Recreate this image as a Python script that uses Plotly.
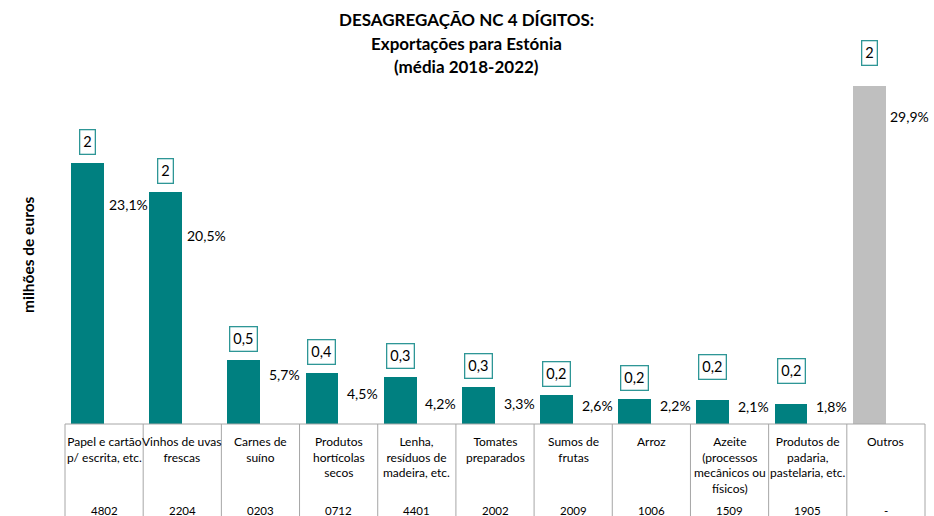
import plotly.graph_objects as go

# ---- data ----
categories = [
    "Papel e cartão<br>p/ escrita, etc.",
    "Vinhos de uvas<br>frescas",
    "Carnes de<br>suíno",
    "Produtos<br>hortícolas<br>secos",
    "Lenha,<br>resíduos de<br>madeira, etc.",
    "Tomates<br>preparados",
    "Sumos de<br>frutas",
    "Arroz",
    "Azeite<br>(processos<br>mecânicos ou<br>físicos)",
    "Produtos de<br>padaria,<br>pastelaria, etc.",
    "Outros",
]
codes = ["4802", "2204", "0203", "0712", "4401", "2002", "2009", "1006", "1509", "1905", "-"]
share_pct = [23.1, 20.5, 5.7, 4.5, 4.2, 3.3, 2.6, 2.2, 2.1, 1.8, 29.9]
value_labels = ["2", "2", "0,5", "0,4", "0,3", "0,3", "0,2", "0,2", "0,2", "0,2", "2"]
pct_labels = ["23,1%", "20,5%", "5,7%", "4,5%", "4,2%", "3,3%", "2,6%", "2,2%", "2,1%", "1,8%", "29,9%"]

# ---- styling / layout ----
W, H = 934, 516
L, R, T, B = 65, 9, 80, 92
PLOT_H = H - T - B
PLOT_W = W - L - R
TEAL = "#008080"
GREY = "#BFBFBF"
BOX = "#2E9696"
GRID = "#A6A6A6"
FONT = "Lato"
n = len(categories)
y_max = PLOT_H / 11.3

def py(p):  # pixel y -> paper y
    return (H - B - p) / PLOT_H

def px(p):  # pixel x -> paper x
    return (p - L) / PLOT_W

colors = [TEAL] * (n - 1) + [GREY]
xs = list(range(n))
bar_w = 0.42
bar_off = -0.423

fig = go.Figure()
fig.add_trace(go.Bar(
    x=xs, y=share_pct, width=bar_w, offset=bar_off,
    marker=dict(color=colors, line=dict(width=0)),
    hoverinfo="skip", showlegend=False,
))

ann = []
# title
for txt, yy in [("DESAGREGAÇÃO NC 4 DÍGITOS:", 20), ("Exportações para Estónia", 43), ("(média 2018-2022)", 67)]:
    ann.append(dict(text=f"<b>{txt}</b>", xref="paper", yref="paper", x=px(466), y=py(yy),
                    xanchor="center", yanchor="middle", showarrow=False,
                    font=dict(family=FONT, size=17, color="#000")))
# y-axis title
ann.append(dict(text="<b>milhões de euros</b>", xref="paper", yref="paper", x=px(28), y=py(255),
                xanchor="center", yanchor="middle", textangle=-90, showarrow=False,
                font=dict(family=FONT, size=15.5, color="#000")))

box_extra = {8: 12, 9: 12, 10: 12}
pct_drop = [42, 43, 15, 20, 27, 17, 11, 6, 6, 3, 30]
for i in range(n):
    # value box
    ann.append(dict(text=value_labels[i], x=i + bar_off + bar_w / 2, y=share_pct[i], xref="x", yref="y",
                    xanchor="center", yanchor="middle", yshift=21 + box_extra.get(i, 0),
                    showarrow=False, bordercolor=BOX, borderwidth=1.3, borderpad=3, bgcolor="#fff",
                    font=dict(family=FONT, size=14.5, color="#000")))
    # percentage
    ann.append(dict(text=pct_labels[i], x=i + 0.307, y=share_pct[i], xref="x", yref="y",
                    xanchor="center", yanchor="middle", yshift=-pct_drop[i],
                    showarrow=False, font=dict(family=FONT, size=14, color="#000")))
    # category name
    ann.append(dict(text=categories[i], x=i, y=py(432), xref="x", yref="paper",
                    xanchor="center", yanchor="top", showarrow=False, align="center",
                    font=dict(family=FONT, size=12, color="#000")))
    # code
    ann.append(dict(text=codes[i], x=i, y=py(510), xref="x", yref="paper",
                    xanchor="center", yanchor="middle", showarrow=False,
                    font=dict(family=FONT, size=11.5, color="#000")))

shapes = []
for k in range(n + 1):
    shapes.append(dict(type="line", xref="paper", yref="paper", x0=k / n, x1=k / n,
                       y0=0, y1=py(H + 5), line=dict(color=GRID, width=1)))
shapes.append(dict(type="line", xref="paper", yref="paper", x0=0, x1=1, y0=0, y1=0,
                   line=dict(color=GRID, width=1)))

fig.update_layout(
    width=W, height=H,
    margin=dict(l=L, r=R, t=T, b=B),
    paper_bgcolor="#fff", plot_bgcolor="#fff",
    xaxis=dict(range=[-0.5, n - 0.5], showticklabels=False, showgrid=False, zeroline=False, ticks=""),
    yaxis=dict(range=[0, y_max], visible=False),
    annotations=ann, shapes=shapes,
    bargap=0,
)

fig.write_html("out.html", config={"displayModeBar": False},
               post_script="document.body.style.margin='0';document.body.style.overflow='hidden';")
